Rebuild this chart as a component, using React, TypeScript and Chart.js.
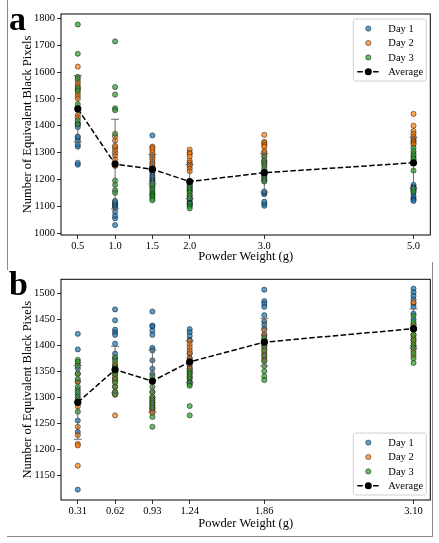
import React, { useEffect, useRef } from "react";
import { Chart, registerables } from "chart.js";

Chart.register(...registerables);

// ---------- Panel a data ----------
const weightsA = [0.5, 1.0, 1.5, 2.0, 3.0, 5.0];
const xLabelsA = ["0.5", "1.0", "1.5", "2.0", "3.0", "5.0"];
const yTicksA = [1000, 1100, 1200, 1300, 1400, 1500, 1600, 1700, 1800];
const day1A = [
  [1255, 1262, 1322, 1330, 1345, 1355, 1360, 1395, 1405, 1410],
  [1030, 1055, 1065, 1080, 1095, 1100, 1105, 1110, 1115, 1120],
  [1364, 1240, 1232, 1225, 1215, 1208, 1200, 1195, 1190, 1175],
  [1130, 1125, 1118, 1112, 1108, 1105, 1160, 1170, 1180, 1140],
  [1102, 1110, 1117, 1145, 1150, 1155, 1195, 1205, 1215, 1225],
  [1180, 1172, 1165, 1160, 1150, 1138, 1130, 1125, 1120, 1170],
];
const day2A = [
  [1620, 1565, 1555, 1545, 1535, 1520, 1510, 1500, 1440, 1430],
  [1250, 1262, 1275, 1290, 1300, 1310, 1320, 1325, 1345, 1360],
  [1322, 1318, 1310, 1300, 1290, 1282, 1275, 1265, 1258, 1250],
  [1311, 1300, 1295, 1285, 1270, 1262, 1255, 1250, 1240, 1230],
  [1366, 1340, 1335, 1328, 1322, 1305, 1298, 1290, 1270, 1260],
  [1444, 1400, 1380, 1370, 1360, 1352, 1345, 1340, 1335, 1330],
];
const day3A = [
  [1777, 1668, 1582, 1575, 1540, 1530, 1480, 1460, 1420, 1405],
  [1714, 1544, 1516, 1465, 1458, 1370, 1196, 1180, 1160, 1150],
  [1185, 1175, 1165, 1158, 1150, 1145, 1140, 1135, 1128, 1122],
  [1180, 1170, 1162, 1155, 1150, 1140, 1130, 1110, 1100, 1092],
  [1285, 1270, 1260, 1250, 1240, 1230, 1220, 1210, 1200, 1192],
  [1318, 1305, 1295, 1288, 1280, 1275, 1260, 1233, 1165, 1156],
];
const avgA = [1463, 1257, 1238, 1192, 1225, 1262];
const stdA = [124, 167, 55, 64, 72, 95];

// ---------- Panel b data ----------
const weightsB = [0.31, 0.62, 0.93, 1.24, 1.86, 3.1];
const xLabelsB = ["0.31", "0.62", "0.93", "1.24", "1.86", "3.10"];
const yTicksB = [1150, 1200, 1250, 1300, 1350, 1400, 1450, 1500];
const day1B = [
  [1422, 1392, 1355, 1330, 1315, 1305, 1290, 1255, 1233, 1122],
  [1469, 1448, 1430, 1425, 1420, 1403, 1384, 1375, 1360, 1350],
  [1465, 1438, 1436, 1428, 1420, 1395, 1390, 1371, 1355, 1345],
  [1431, 1425, 1418, 1410, 1384, 1375, 1368, 1360, 1355, 1350],
  [1507, 1485, 1480, 1474, 1458, 1446, 1440, 1432, 1420, 1410],
  [1509, 1502, 1495, 1488, 1480, 1474, 1461, 1450, 1440, 1430],
];
const day2B = [
  [1365, 1345, 1330, 1288, 1282, 1243, 1227, 1210, 1207, 1168],
  [1365, 1355, 1345, 1340, 1335, 1330, 1320, 1310, 1305, 1265],
  [1310, 1300, 1295, 1290, 1285, 1280, 1278, 1275, 1272, 1270],
  [1408, 1402, 1396, 1390, 1385, 1375, 1365, 1355, 1345, 1338],
  [1429, 1420, 1412, 1405, 1398, 1392, 1385, 1380, 1375, 1370],
  [1483, 1440, 1430, 1420, 1415, 1410, 1405, 1398, 1390, 1380],
];
const day3B = [
  [1372, 1368, 1360, 1345, 1335, 1320, 1310, 1300, 1295, 1272],
  [1377, 1370, 1360, 1352, 1345, 1335, 1328, 1320, 1310, 1305],
  [1340, 1320, 1310, 1300, 1295, 1290, 1285, 1280, 1262, 1243],
  [1350, 1345, 1340, 1335, 1330, 1328, 1325, 1322, 1283, 1265],
  [1415, 1405, 1398, 1390, 1380, 1370, 1360, 1350, 1340, 1333],
  [1457, 1445, 1430, 1420, 1410, 1400, 1395, 1385, 1375, 1366],
];
const avgB = [1290, 1353, 1331, 1368, 1406, 1432];
const stdB = [71, 45, 60, 40, 46, 38];

const seriesLabels = ["Day 1", "Day 2", "Day 3", "Average"];

const FONT = "'Liberation Serif', 'Times New Roman', 'DejaVu Serif', serif";
const C1 = "rgba(31,119,180,0.72)";
const C2 = "rgba(255,127,14,0.72)";
const C3 = "rgba(44,160,44,0.72)";
const EDGE = "rgba(0,0,0,0.75)";

type PanelProps = {
  top: number;
  height: number;
  padTop: number;
  xAxisHeight: number;
  weights: number[];
  xLabels: string[];
  yTicks: number[];
  xMin: number;
  xMax: number;
  yMin: number;
  yMax: number;
  day1: number[][];
  day2: number[][];
  day3: number[][];
  avg: number[];
  std: number[];
  legendAtTop: boolean;
};

function Panel(p: PanelProps) {
  const ref = useRef<HTMLCanvasElement>(null);

  useEffect(() => {
    const toPts = (groups: number[][]) =>
      groups.flatMap((g, i) => g.map((v) => ({ x: p.weights[i], y: v })));

    const framePlugin = {
      id: "frame",
      afterDatasetsDraw(chart: any) {
        const { ctx, chartArea: a } = chart;
        ctx.save();
        ctx.strokeStyle = "#000";
        ctx.lineWidth = 1;
        ctx.strokeRect(a.left, a.top, a.right - a.left, a.bottom - a.top);
        ctx.restore();
      },
    };

    const errPlugin = {
      id: "errbars",
      beforeDatasetDraw(chart: any, args: any) {
        if (args.index !== 3) return;
        const ctx = chart.ctx;
        const xs = chart.scales.x;
        const ys = chart.scales.y;
        ctx.save();
        ctx.strokeStyle = "#6a6a6a";
        ctx.lineWidth = 1;
        p.weights.forEach((w, i) => {
          const px = xs.getPixelForValue(w);
          const y1 = ys.getPixelForValue(p.avg[i] + p.std[i]);
          const y2 = ys.getPixelForValue(p.avg[i] - p.std[i]);
          ctx.beginPath();
          ctx.moveTo(px, y1);
          ctx.lineTo(px, y2);
          ctx.moveTo(px - 4, y1);
          ctx.lineTo(px + 4, y1);
          ctx.moveTo(px - 4, y2);
          ctx.lineTo(px + 4, y2);
          ctx.stroke();
        });
        ctx.restore();
      },
    };

    const legendPlugin = {
      id: "customLegend",
      afterDraw(chart: any) {
        const { ctx, chartArea: a } = chart;
        const w = 73;
        const h = 62;
        const left = a.right - 4 - w;
        const top = p.legendAtTop ? a.top + 5 : a.bottom - 5 - h;
        ctx.save();
        ctx.beginPath();
        const r = 2.5;
        ctx.moveTo(left + r, top);
        ctx.lineTo(left + w - r, top);
        ctx.arcTo(left + w, top, left + w, top + r, r);
        ctx.lineTo(left + w, top + h - r);
        ctx.arcTo(left + w, top + h, left + w - r, top + h, r);
        ctx.lineTo(left + r, top + h);
        ctx.arcTo(left, top + h, left, top + h - r, r);
        ctx.lineTo(left, top + r);
        ctx.arcTo(left, top, left + r, top, r);
        ctx.closePath();
        ctx.fillStyle = "rgba(255,255,255,0.85)";
        ctx.fill();
        ctx.strokeStyle = "#d0d0d0";
        ctx.lineWidth = 1;
        ctx.stroke();

        const colors = [C1, C2, C3];
        ctx.font = `10.5px ${FONT}`;
        ctx.textBaseline = "middle";
        ctx.textAlign = "left";
        seriesLabels.forEach((lab, i) => {
          const cy = top + 9.6 + i * 14.4;
          const mx = left + 15;
          if (i < 3) {
            ctx.beginPath();
            ctx.arc(mx, cy, 2.6, 0, Math.PI * 2);
            ctx.fillStyle = colors[i];
            ctx.fill();
            ctx.strokeStyle = EDGE;
            ctx.lineWidth = 0.6;
            ctx.stroke();
          } else {
            ctx.beginPath();
            ctx.setLineDash([5.5, 2.4]);
            ctx.strokeStyle = "#000";
            ctx.lineWidth = 1.5;
            ctx.moveTo(left + 4, cy);
            ctx.lineTo(left + 26, cy);
            ctx.stroke();
            ctx.setLineDash([]);
            ctx.beginPath();
            ctx.arc(mx, cy, 3.5, 0, Math.PI * 2);
            ctx.fillStyle = "#000";
            ctx.fill();
          }
          ctx.fillStyle = "#000";
          ctx.fillText(lab, left + 35, cy + 0.5);
        });
        ctx.restore();
      },
    };

    const scatterDs = (label: string, groups: number[][], color: string, order: number) => ({
      label,
      data: toPts(groups),
      backgroundColor: color,
      borderColor: EDGE,
      borderWidth: 0.6,
      pointRadius: 2.6,
      pointHoverRadius: 2.6,
      order,
    });

    const chart = new Chart(ref.current as HTMLCanvasElement, {
      type: "scatter",
      data: {
        datasets: [
          scatterDs(seriesLabels[0], p.day1, C1, 4),
          scatterDs(seriesLabels[1], p.day2, C2, 3),
          scatterDs(seriesLabels[2], p.day3, C3, 2),
          {
            label: seriesLabels[3],
            data: p.weights.map((w, i) => ({ x: w, y: p.avg[i] })),
            showLine: true,
            borderColor: "#000",
            borderWidth: 1.5,
            borderDash: [5.5, 2.4],
            backgroundColor: "#000",
            pointBackgroundColor: "#000",
            pointBorderWidth: 0,
            pointRadius: 3.6,
            pointHoverRadius: 3.6,
            order: 1,
          } as any,
        ],
      },
      options: {
        animation: false,
        responsive: false,
        maintainAspectRatio: false,
        events: [],
        layout: { padding: { left: 15.8, right: 8.7, top: p.padTop, bottom: 0 } },
        plugins: {
          legend: { display: false },
          tooltip: { enabled: false },
        },
        scales: {
          x: {
            type: "linear",
            min: p.xMin,
            max: p.xMax,
            afterBuildTicks: (s: any) => {
              s.ticks = p.weights.map((v) => ({ value: v }));
            },
            afterFit: (s: any) => {
              s.height = p.xAxisHeight;
            },
            ticks: {
              callback: (_v: any, i: number) => p.xLabels[i],
              font: { family: FONT, size: 10.5 },
              color: "#000",
              padding: 1,
              maxRotation: 0,
              autoSkip: false,
            },
            grid: {
              display: true,
              drawOnChartArea: false,
              drawTicks: true,
              tickLength: 4,
              color: "#000",
              lineWidth: 0.8,
            },
            border: { display: false },
            title: {
              display: true,
              text: "Powder Weight (g)",
              font: { family: FONT, size: 12.5 },
              color: "#000",
              padding: { top: 0, bottom: 4 },
            },
          },
          y: {
            type: "linear",
            min: p.yMin,
            max: p.yMax,
            afterBuildTicks: (s: any) => {
              s.ticks = p.yTicks.map((v) => ({ value: v }));
            },
            afterFit: (s: any) => {
              s.width = 45.2;
            },
            ticks: {
              callback: (v: any) => String(v),
              font: { family: FONT, size: 10.5 },
              color: "#000",
              padding: 2,
              autoSkip: false,
            },
            grid: {
              display: true,
              drawOnChartArea: false,
              drawTicks: true,
              tickLength: 4,
              color: "#000",
              lineWidth: 0.8,
            },
            border: { display: false },
            title: {
              display: true,
              text: "Number of Equivalent Black Pixels",
              font: { family: FONT, size: 12.5 },
              color: "#000",
              padding: { top: 4, bottom: 0 },
            },
          },
        },
      } as any,
      plugins: [errPlugin, framePlugin, legendPlugin],
    });
    return () => chart.destroy();
  }, []);

  return (
    <canvas
      ref={ref}
      width={439}
      height={p.height}
      style={{ position: "absolute", left: 0, top: p.top, width: 439, height: p.height }}
    />
  );
}

const labelStyle: React.CSSProperties = {
  position: "absolute",
  left: 9,
  fontFamily: FONT,
  fontWeight: "bold",
  fontSize: 34,
  lineHeight: "34px",
  color: "#000",
};

export default function App() {
  return (
    <div
      style={{
        position: "absolute",
        left: 0,
        top: 0,
        width: 439,
        height: 543,
        background: "#fff",
        overflow: "hidden",
      }}
    >
      <Panel
        top={0}
        height={268}
        padTop={14}
        xAxisHeight={33}
        weights={weightsA}
        xLabels={xLabelsA}
        yTicks={yTicksA}
        xMin={0.275}
        xMax={5.225}
        yMin={993}
        yMax={1816}
        day1={day1A}
        day2={day2A}
        day3={day3A}
        avg={avgA}
        std={stdA}
        legendAtTop={true}
      />
      <Panel
        top={267}
        height={268}
        padTop={12.3}
        xAxisHeight={35}
        weights={weightsB}
        xLabels={xLabelsB}
        yTicks={yTicksB}
        xMin={0.1705}
        xMax={3.2395}
        yMin={1102}
        yMax={1527}
        day1={day1B}
        day2={day2B}
        day3={day3B}
        avg={avgB}
        std={stdB}
        legendAtTop={false}
      />
      <div style={{ ...labelStyle, top: 1.5 }}>a</div>
      <div style={{ ...labelStyle, top: 266.5 }}>b</div>
      <div style={{ position: "absolute", left: 7, top: 0, width: 1, height: 270, background: "#8a8a8a" }} />
      <div style={{ position: "absolute", left: 432, top: 262, width: 1, height: 275, background: "#8a8a8a" }} />
      <div style={{ position: "absolute", left: 7, top: 536, width: 426, height: 1, background: "#8a8a8a" }} />
    </div>
  );
}
